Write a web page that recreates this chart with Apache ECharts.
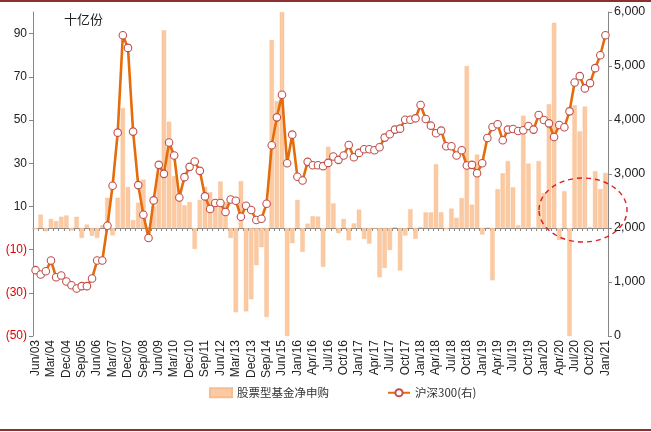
<!DOCTYPE html>
<html>
<head>
<meta charset="utf-8">
<script src="https://cdn.jsdelivr.net/npm/echarts@6/dist/echarts.min.js"></script>
<style>
html,body{margin:0;padding:0;background:#fff;}
#chart{width:651px;height:432px;}
</style>
</head>
<body>
<div id="chart"></div>
<script>
var categories = [
 'Jun/03','Sep/03','Dec/03','Mar/04','Jun/04','Sep/04','Dec/04','Mar/05','Jun/05','Sep/05','Dec/05',
 'Mar/06','Jun/06','Sep/06','Dec/06','Mar/07','Jun/07','Sep/07','Dec/07','Mar/08','Jun/08','Sep/08','Dec/08',
 'Mar/09','Jun/09','Sep/09','Dec/09','Mar/10','Jun/10','Sep/10','Dec/10','Mar/11','Jun/11','Sep/11','Dec/11',
 'Mar/12','Jun/12','Sep/12','Dec/12','Mar/13','Jun/13','Sep/13','Dec/13','Mar/14','Jun/14','Sep/14','Dec/14',
 'Mar/15','Jun/15','Sep/15','Dec/15',
 'Jan/16','Feb/16','Mar/16','Apr/16','May/16','Jun/16','Jul/16','Aug/16','Sep/16','Oct/16','Nov/16','Dec/16',
 'Jan/17','Feb/17','Mar/17','Apr/17','May/17','Jun/17','Jul/17','Aug/17','Sep/17','Oct/17','Nov/17','Dec/17',
 'Jan/18','Feb/18','Mar/18','Apr/18','May/18','Jun/18','Jul/18','Aug/18','Sep/18','Oct/18','Nov/18','Dec/18',
 'Jan/19','Feb/19','Mar/19','Apr/19','May/19','Jun/19','Jul/19','Aug/19','Sep/19','Oct/19','Nov/19','Dec/19',
 'Jan/20','Feb/20','Mar/20','Apr/20','May/20','Jun/20','Jul/20','Aug/20','Sep/20','Oct/20','Nov/20','Dec/20',
 'Jan/21'
];

// 股票型基金净申购 (十亿份)
var fundNetSubscription = [
 -0.6, 6.2, -1.5, 4.2, 3.2, 5.2, 5.8, -1.1, 5.2, -4.6, 1.6,
 -3.6, -4.6, 1.3, 14, -3.4, 14, 55.5, 19, 3.7, 11.7, 22.4, 0.5,
 10, 25, 91.5, 49.2, 24, 14, 10.5, 12, -9.7, 13, 19, 16.5,
 12, 21.5, 12, -4.6, -39, 21.7, -38.6, -33, -17.2, -8.9, -41.2, 87,
 58.7, 100, -50, -7,
 13, -11, 2, 5.5, 5.3, -18, 37.6, 11.4, -2.4, 4.2, -5.7, 2.1,
 8.5, -5.1, -7.2, -0.3, -22.8, -18.5, -10.2, 0.3, -19.7, -3.5, 8.7, -5,
 0.5, 7.2, 7.2, 29.5, 7.3, -0.5, 9, 4.7, 13.8, 75, 10.8, 34,
 -3, 0.2, -24.2, 18, 25.3, 31, 18.8, 1.2, 52, 29.8, 0.3, 31,
 16.2, 57.3, 95, -5.5, 17, -50, 56.8, 44.7, 56.2, 0.4, 26.3, 18,
 25.5
];

// 沪深300 (右轴)
var csi300 = [
 1219, 1138, 1200, 1397, 1089, 1120, 1009, 941, 880, 923, 923,
 1065, 1397, 1397, 2043, 2782, 3766, 5569, 5335, 3785, 2794, 2246, 1815,
 2511, 3169, 3003, 3582, 3342, 2566, 2942, 3132, 3231, 3058, 2585, 2351,
 2462, 2462, 2295, 2529, 2505, 2209, 2412, 2332, 2148, 2172, 2449, 3532,
 4049, 4468, 3200, 3729,
 2948, 2880, 3225, 3163, 3163, 3145, 3206, 3323, 3262, 3342, 3538, 3311,
 3391, 3458, 3458, 3440, 3495, 3674, 3735, 3822, 3840, 4006, 4006, 4031,
 4277, 4018, 3895, 3754, 3803, 3514, 3514, 3342, 3440, 3157, 3169, 3015,
 3200, 3668, 3871, 3920, 3625, 3822, 3834, 3797, 3809, 3889, 3822, 4092,
 4000, 3938, 3686, 3908, 3865, 4160, 4695, 4812, 4585, 4683, 4960, 5200,
 5569
];

var leftTicks = [-50, -30, -10, 10, 30, 50, 70, 90];
var rightTicks = [0, 1000, 2000, 3000, 4000, 5000, 6000];
var unitLabel = '十亿份';
var barName = '股票型基金净申购';
var lineName = '沪深300(右)';

var chart = echarts.init(document.getElementById('chart'), null, {renderer: 'canvas'});
var axisGray = '#868686';
var font = 'Liberation Sans, Arial, sans-serif';
var cjk = 'Noto Sans CJK SC, sans-serif';

var option = {
  animation: false,
  backgroundColor: '#ffffff',
  grid: {left: 33, right: 43, top: 12, bottom: 96, containLabel: false},
  legend: {
    left: 204, top: 382,
    itemGap: 58,
    itemWidth: 22, itemHeight: 9,
    textStyle: {fontFamily: cjk, fontSize: 11.5, color: '#333'},
    data: [
      {name: barName, icon: 'rect'},
      {name: lineName}
    ]
  },
  xAxis: [
    {
      type: 'category', data: categories, position: 'bottom',
      axisLine: {show: false, onZero: false},
      axisTick: {show: false},
      axisLabel: {interval: 2, rotate: 90, fontFamily: font, fontSize: 12, color: '#222', margin: 4}
    },
    {
      type: 'category', data: categories, position: 'bottom',
      axisLine: {show: true, onZero: true, onZeroAxisIndex: 0, lineStyle: {color: axisGray, width: 1.2}},
      axisTick: {show: true, interval: 0, length: 3, lineStyle: {color: axisGray}},
      axisLabel: {show: false}
    }
  ],
  yAxis: [
    {
      type: 'value', min: -50, max: 100, position: 'left',
      splitLine: {show: false},
      axisLine: {show: true, lineStyle: {color: axisGray}},
      axisTick: {show: true, length: 4, customValues: leftTicks, lineStyle: {color: axisGray}},
      axisLabel: {
        customValues: leftTicks,
        fontFamily: font, fontSize: 12, margin: 6,
        formatter: function (v) { return v < 0 ? '(' + (-v) + ')' : String(v); },
        color: function (v) { return Number(v) < 0 ? '#e00000' : '#222'; }
      }
    },
    {
      type: 'value', min: 0, max: 6000, interval: 1000, position: 'right',
      splitLine: {show: false},
      axisLine: {show: true, lineStyle: {color: axisGray}},
      axisTick: {show: true, length: 4, lineStyle: {color: axisGray}},
      axisLabel: {
        fontFamily: font, fontSize: 12.5, color: '#222', margin: 6,
        formatter: function (v) { return v.toString().replace(/\B(?=(\d{3})+(?!\d))/g, ','); }
      }
    }
  ],
  series: [
    {
      name: barName, type: 'bar', xAxisIndex: 0, yAxisIndex: 0,
      data: fundNetSubscription,
      barCategoryGap: '14%',
      itemStyle: {color: '#fbcaa2', borderColor: '#f6bd90', borderWidth: 0.4},
      clip: true, z: 2
    },
    {
      name: lineName, type: 'line', xAxisIndex: 0, yAxisIndex: 1,
      data: csi300,
      symbol: 'circle', symbolSize: 7.5, showAllSymbol: true,
      lineStyle: {color: '#e46c0a', width: 2.6},
      itemStyle: {color: '#ffffff', borderColor: '#c0504d', borderWidth: 1.1},
      z: 5
    }
  ],
  graphic: [
    {type: 'rect', left: 0, top: 0, shape: {width: 651, height: 2}, style: {fill: '#8c2f2f'}},
    {type: 'rect', left: 0, top: 429, shape: {width: 651, height: 2}, style: {fill: '#8c2f2f'}},
    {type: 'text', left: 64, top: 13, style: {text: unitLabel, font: '13px ' + cjk, fill: '#222'}},
    {type: 'ellipse', shape: {cx: 583, cy: 210, rx: 44, ry: 32},
     style: {fill: 'none', stroke: '#e02020', lineWidth: 1.4, lineDash: [5, 4]}, z: 10}
  ]
};
chart.setOption(option);
</script>
</body>
</html>
